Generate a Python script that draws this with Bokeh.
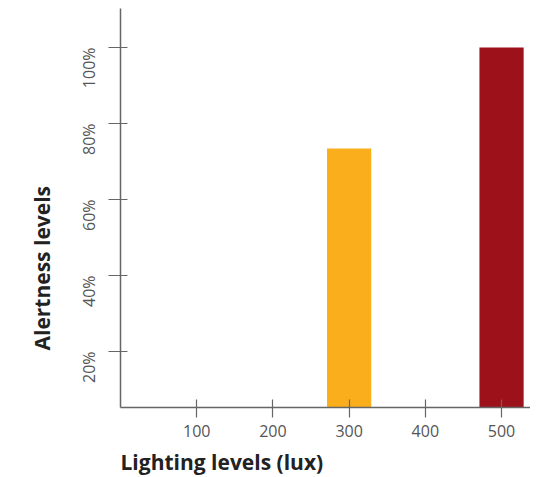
from bokeh.plotting import figure
from bokeh.models import Range1d, NumeralTickFormatter, FixedTicker, Title
from bokeh.embed import file_html
from bokeh.resources import INLINE
import math

lux = [300, 500]
alertness = [0.734, 1.0]
colors = ["#FBAE1C", "#9C111A"]
x_ticks = [100, 200, 300, 400, 500]
y_ticks = [0.2, 0.4, 0.6, 0.8, 1.0]

p = figure(width=530, height=477, output_backend="svg", toolbar_location=None,
           x_range=Range1d(0, 538), y_range=Range1d(0.0526, 1.1026),
           min_border_left=120, min_border_right=0, min_border_top=8, min_border_bottom=70)
p.frame_width = 410
p.frame_height = 399
p.outline_line_color = None
p.grid.grid_line_color = None

p.vbar(x=lux, top=alertness, bottom=0.0526, width=58, color=colors, line_color=None)

axis_col = "#666666"
for ax in (p.xaxis[0], p.yaxis[0]):
    ax.axis_line_color = axis_col
    ax.axis_line_width = 1.5
    ax.major_tick_line_color = axis_col
    ax.major_tick_line_width = 1.2
    ax.minor_tick_line_color = None
    ax.major_label_text_color = "#555555"
    ax.major_label_text_font = "Open Sans"
    ax.major_label_text_font_size = "16px"

p.xaxis.ticker = FixedTicker(ticks=x_ticks)
p.xaxis.major_tick_in = 8
p.xaxis.major_tick_out = 10
p.xaxis.major_label_standoff = 7

p.yaxis.ticker = FixedTicker(ticks=y_ticks)
p.yaxis.formatter = NumeralTickFormatter(format="0%")
p.yaxis.major_tick_in = 7
p.yaxis.major_tick_out = 12
p.yaxis.major_label_orientation = math.pi / 2
p.yaxis.major_label_standoff = 19

xt = Title(text="Lighting levels (lux)", align="left", text_font="Open Sans",
           text_font_size="21px", text_font_style="bold", text_color="#222222", standoff=13)
p.add_layout(xt, "below")
yt = Title(text="Alertness levels", align="left", offset=57, text_font="Open Sans",
           text_font_size="21px", text_font_style="bold", text_color="#222222", standoff=17)
p.add_layout(yt, "left")

open("out.html", "w").write(file_html(p, INLINE))
